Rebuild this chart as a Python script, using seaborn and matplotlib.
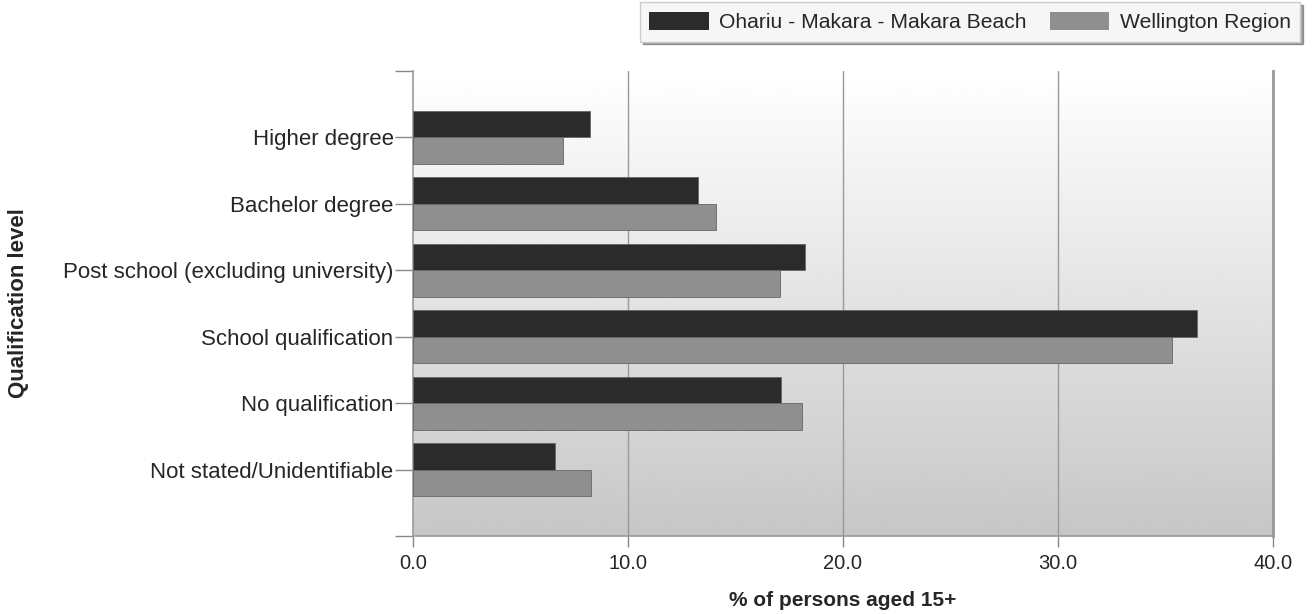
import numpy as np
import pandas as pd
import matplotlib
matplotlib.use("Agg")
import matplotlib.pyplot as plt
import seaborn as sns

categories = ["Higher degree", "Bachelor degree", "Post school (excluding university)",
              "School qualification", "No qualification", "Not stated/Unidentifiable"]
series_names = ["Ohariu - Makara - Makara Beach", "Wellington Region"]
ohariu = [8.25, 13.26, 18.23, 36.48, 17.12, 6.60]
wellington = [6.98, 14.09, 17.07, 35.29, 18.09, 8.28]
x_ticks = [0, 10, 20, 30, 40]
x_tick_labels = ["0.0", "10.0", "20.0", "30.0", "40.0"]

df = pd.DataFrame({
    "Qualification": categories * 2,
    "Series": [series_names[0]] * len(categories) + [series_names[1]] * len(categories),
    "Value": ohariu + wellington,
})

sns.set_theme(style="white")
plt.rcParams['font.family'] = ['Liberation Sans', 'DejaVu Sans']

W, H = 1313, 614
fig = plt.figure(figsize=(W / 100, H / 100), dpi=100)
ax = fig.add_axes([413 / W, (H - 536) / H, (1273 - 413) / W, (536 - 71) / H])

# gradient background
grad = np.linspace(1.0, 0.78, 256).reshape(-1, 1)
ax.imshow(grad, extent=[0, 40, 6, -1], aspect="auto", cmap="gray", vmin=0, vmax=1,
          zorder=0, interpolation="bicubic")

palette = {series_names[0]: "#2b2b2b", series_names[1]: "#8f8f8f"}
sns.barplot(data=df, y="Qualification", x="Value", hue="Series", orient="h",
            palette=palette, order=categories, hue_order=series_names,
            width=0.8, ax=ax, legend=False, zorder=3, saturation=1,
            edgecolor="#666666", linewidth=0.6)

ax.set_xlim(0, 40)
ax.set_ylim(6, -1)
for xv in [10, 20, 30]:
    ax.axvline(xv, color="#999999", linewidth=1.0, zorder=1)

ax.set_xticks(x_ticks)
ax.set_xticklabels(x_tick_labels, fontsize=14.5)
ax.set_yticks([-1] + list(range(len(categories))) + [6])
ax.set_yticklabels([""] + categories + [""], fontsize=16)
ax.tick_params(axis="y", which="major", length=13, width=1, color="#888888", pad=1, left=True)
ax.tick_params(axis="x", which="major", length=8, width=1, color="#888888", pad=5, bottom=True)

ax.spines["top"].set_visible(False)
for s in ["left", "bottom", "right"]:
    ax.spines[s].set_visible(True)
    ax.spines[s].set_color("#999999")
    ax.spines[s].set_linewidth(1.2)
ax.spines["right"].set_linewidth(2)

ax.set_xlabel("% of persons aged 15+", fontsize=15, fontweight="bold")
ax.xaxis.set_label_coords(0.5, (536 - 591) / (536 - 71))
ax.set_ylabel("Qualification level", fontsize=16, fontweight="bold")
ax.yaxis.set_label_coords(-(413 - 29) / (1273 - 413), 0.5)

from matplotlib.patches import Patch
handles = [Patch(facecolor=palette[n], edgecolor="none") for n in series_names]
leg = fig.legend(handles, series_names, loc="upper right",
                 bbox_to_anchor=(1300 / W, 1 - 2 / H), ncol=2, fontsize=15.2,
                 frameon=True, fancybox=False, shadow=True, handlelength=2.8,
                 handleheight=1.0, columnspacing=1.1, handletextpad=0.5,
                 borderpad=0.45, borderaxespad=0)
leg.get_frame().set_edgecolor("#cccccc")
leg.get_frame().set_facecolor("#f6f6f6")

fig.savefig("out.png", dpi=100)
